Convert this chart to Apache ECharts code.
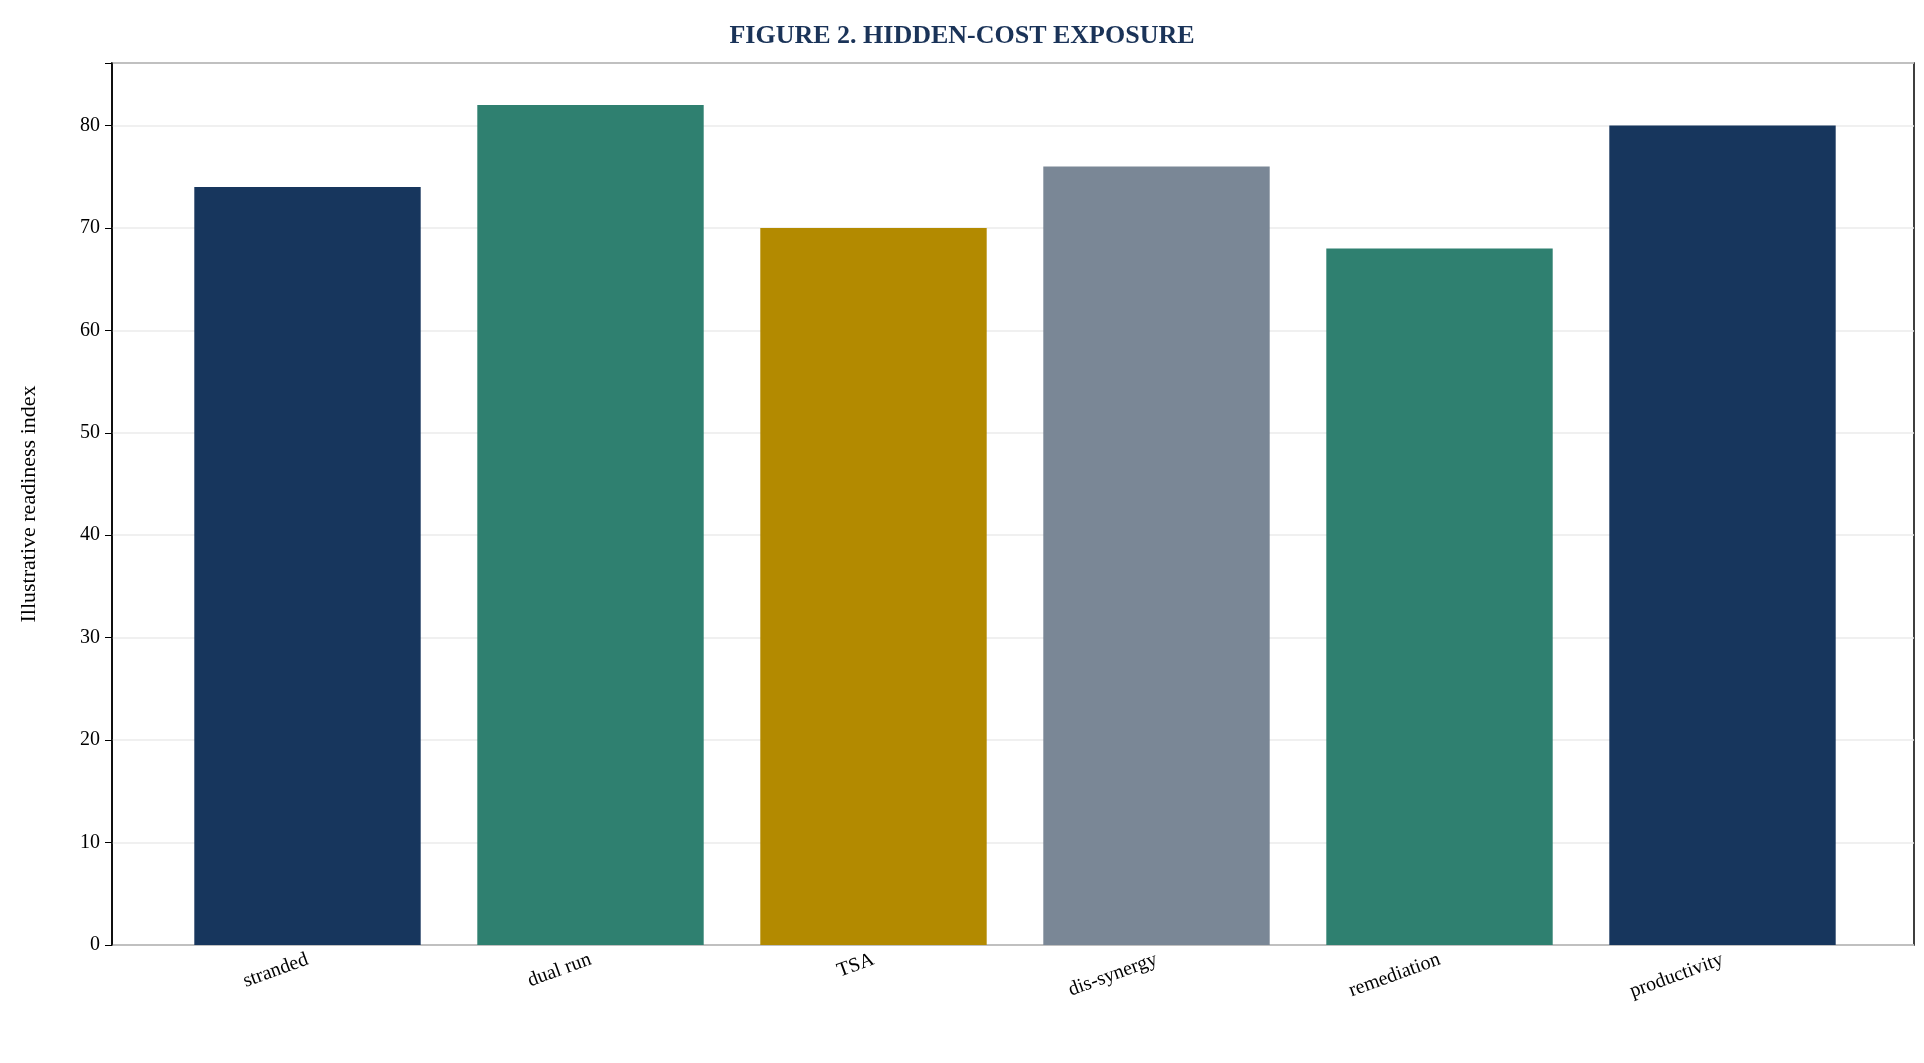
<!DOCTYPE html>
<html><head><meta charset="utf-8">
<script src="https://cdn.jsdelivr.net/npm/echarts@6/dist/echarts.min.js"></script>
<style>html,body{margin:0;padding:0;background:#fff}#c{width:1924px;height:1063px}</style>
</head><body><div id="c"></div>
<script>
const categories = ["stranded","dual run","TSA","dis-synergy","remediation","productivity"];
const values = [74,82,70,76,68,80];
const colors = ["#17365d","#2f8070","#b38a00","#7a8796","#2f8070","#17365d"];
const yTicks = [0,10,20,30,40,50,60,70,80];
const F = "'Liberation Serif','DejaVu Serif',serif";
const chart = echarts.init(document.getElementById('c'));
chart.setOption({
  animation:false,
  title:{text:"FIGURE 2. HIDDEN-COST EXPOSURE",left:'center',top:18,
    textStyle:{fontFamily:F,fontSize:26,fontWeight:'bold',color:'#1a3358'}},
  grid:[
    {left:112,right:10,top:63,bottom:118,show:true,borderColor:'#000',borderWidth:1.5,z:0},
    {left:166,right:60,top:63,bottom:118}
  ],
  xAxis:[
    {gridIndex:0,type:'value',min:0,max:1,show:false},
    {gridIndex:1,type:'category',data:categories,
      axisLine:{show:false},
      axisTick:{alignWithLabel:true,length:7,lineStyle:{color:'#000',width:1.2}},
      axisLabel:{rotate:20,fontFamily:F,fontSize:20,color:'#000',margin:14}}
  ],
  yAxis:[
    {gridIndex:0,type:'value',min:0,max:86.1,interval:10,
    name:"Illustrative readiness index",nameLocation:'middle',nameGap:72,
    nameTextStyle:{fontFamily:F,fontSize:22,color:'#000'},
    axisLine:{show:true,lineStyle:{color:'#000',width:1.5}},
    axisTick:{show:true,length:7,lineStyle:{color:'#000'}},
    axisLabel:{fontFamily:F,fontSize:20,color:'#000',margin:12,
      formatter:v=>yTicks.includes(v)?String(v):''},
    splitLine:{lineStyle:{color:'#ebebeb',width:1.5}}},
    {gridIndex:1,type:'value',min:0,max:86.1,show:false,splitLine:{show:false}}
  ],
  series:[{type:'bar',xAxisIndex:1,yAxisIndex:1,barWidth:'80%',
    data:values.map((v,i)=>({value:v,itemStyle:{color:colors[i]}}))}]
});
</script></body></html>
